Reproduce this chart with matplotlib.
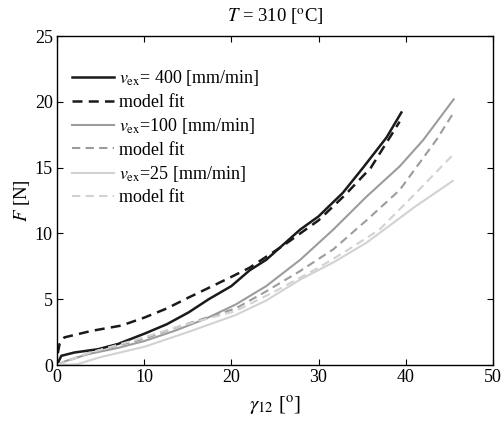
import matplotlib
matplotlib.use('Agg')
import matplotlib.pyplot as plt

plt.rcParams['font.family'] = 'Liberation Serif'
plt.rcParams['mathtext.fontset'] = 'stix'

# v_ex = 400 mm/min, measured and model fit
x400 = [0, 0.5, 2, 4.7, 7, 10.1, 12.6, 15.1, 17.4, 20, 22.1, 24, 27.9, 30, 32.8, 35.1, 37.8, 39.5]
f400 = [0, 0.7, 0.95, 1.2, 1.6, 2.4, 3.1, 4.0, 5.0, 6.0, 7.2, 8.0, 10.3, 11.3, 13.1, 15.0, 17.3, 19.2]
x400_fit = [0.1, 0.3, 0.85, 4, 7.4, 10, 12.6, 15, 17.2, 20, 22.1, 26, 30, 33, 36, 39.3]
f400_fit = [0.9, 1.6, 2.1, 2.6, 3.0, 3.6, 4.3, 5.1, 5.8, 6.7, 7.4, 9.1, 11.0, 12.9, 15.0, 18.5]

# v_ex = 100 mm/min
x100 = [0, 1, 3.6, 7, 10.1, 13.5, 17, 20.5, 24, 27.9, 31.7, 35.5, 39.3, 42, 45.5]
f100 = [0, 0.3, 0.83, 1.3, 1.84, 2.6, 3.5, 4.6, 6.0, 8.0, 10.3, 12.8, 15.1, 17.1, 20.2]
x100_fit = [0, 3.6, 10, 14.3, 20.5, 24, 27.9, 31.7, 35.5, 39.3, 43.5, 45.5]
f100_fit = [0, 0.9, 2.0, 3.0, 4.3, 5.6, 7.15, 8.8, 11.0, 13.3, 17.1, 19.2]

# v_ex = 25 mm/min
x25 = [0, 2.3, 5, 10.1, 15, 20.5, 24, 27.9, 31.7, 35.5, 41.2, 45.4]
f25 = [0, 0.05, 0.6, 1.4, 2.5, 3.8, 4.9, 6.5, 7.8, 9.3, 12.1, 14.0]
x25_fit = [0, 3.6, 10, 14.3, 20.5, 25, 30, 33, 37, 41.2, 45.3]
f25_fit = [0, 0.9, 2.1, 3.0, 4.1, 5.6, 7.4, 8.6, 10.3, 13.1, 15.9]

black = '#1a1a1a'
gray = '#9c9c9c'
light = '#d2d2d2'
dash = (0, (4, 2.5))

fig = plt.figure(figsize=(5.04, 4.21), dpi=100)
ax = fig.add_axes([0.113, 0.133, 0.865, 0.781])

ax.plot(x400, f400, color=black, lw=1.8, label=r'$v_{\rm ex}$= 400 [mm/min]')
ax.plot(x400_fit, f400_fit, color=black, lw=1.8, linestyle=dash, label='model fit')
ax.plot(x100, f100, color=gray, lw=1.5, label=r'$v_{\rm ex}$=100 [mm/min]')
ax.plot(x100_fit, f100_fit, color=gray, lw=1.5, linestyle=dash, label='model fit')
ax.plot(x25, f25, color=light, lw=1.5, label=r'$v_{\rm ex}$=25 [mm/min]')
ax.plot(x25_fit, f25_fit, color=light, lw=1.5, linestyle=dash, label='model fit')

ax.set_xlim(0, 50)
ax.set_ylim(0, 25)
ax.set_xticks([0, 10, 20, 30, 40, 50])
ax.set_yticks([0, 5, 10, 15, 20, 25])
ax.tick_params(direction='in', top=True, right=True, labelsize=13, length=4, pad=3)
for s in ax.spines.values():
    s.set_linewidth(1.0)

ax.set_title(r'$T$ = 310 [$^{\rm o}$C]', fontsize=13.5, pad=10)
ax.set_xlabel(r'$\gamma_{12}$ [$^{\rm o}$]', fontsize=15, labelpad=6)
ax.set_ylabel(r'$F$ [N]', fontsize=13.5, labelpad=2)

ax.legend(loc='upper left', bbox_to_anchor=(0.01, 0.935), frameon=False, fontsize=13,
          handlelength=2.3, handletextpad=0.3, labelspacing=0.3, borderaxespad=0.2)

plt.savefig('out.png', dpi=100)
